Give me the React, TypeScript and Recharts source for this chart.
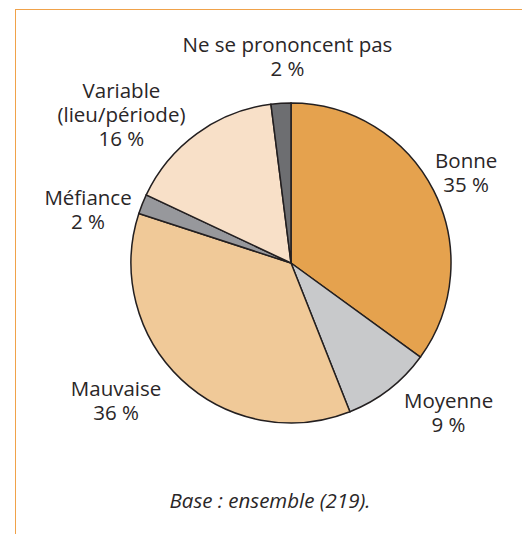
import { PieChart, Pie, Cell } from 'recharts';

const categories = ['Bonne', 'Moyenne', 'Mauvaise', 'Méfiance', 'Variable\n(lieu/période)', 'Ne se prononcent pas'];
const shares = [35, 9, 36, 2, 16, 2];
const colors = ['#e5a24e', '#c8c9cb', '#f0c998', '#97989c', '#f8e0c8', '#6d6e71'];

// label placement tweaks (px) around the default outside position
const labelNudge: [number, number][] = [
  [-3, 2],
  [35, -7],
  [-38, -7],
  [-17, 22],
  [-52, 15],
  [9, -5],
];

const data = categories.map((name, i) => ({ name, value: shares[i] }));

const RAD = Math.PI / 180;
const LABEL_R = 200;
const LINE_H = 24;
const FONT = '"Open Sans", Lato, sans-serif';

function renderLabel(props: any) {
  const { cx, cy, midAngle, index, name, value } = props;
  const [nx, ny] = labelNudge[index] ?? [0, 0];
  const x = cx + LABEL_R * Math.cos(-midAngle * RAD) + nx;
  const y = cy + LABEL_R * Math.sin(-midAngle * RAD) + ny;
  const lines = [...String(name).split('\n'), `${value} %`];
  const y0 = y - ((lines.length - 1) * LINE_H) / 2 + 6;
  return (
    <text key={`l-${index}`} x={x} y={y0} textAnchor="middle" fill="#2a2627" fontSize={20.5} fontFamily={FONT}>
      {lines.map((l, i) => (
        <tspan key={i} x={x} y={y0 + i * LINE_H}>
          {l}
        </tspan>
      ))}
    </text>
  );
}

export default function App() {
  return (
    <div style={{ position: 'absolute', left: 0, top: 0, width: 522, height: 534, background: '#fff' }}>
      <div
        style={{
          position: 'absolute',
          left: 15,
          top: 9,
          width: 507,
          height: 525,
          borderTop: '1.5px solid #f0a24a',
          borderLeft: '1.5px solid #f0a24a',
          boxSizing: 'border-box',
        }}
      />
      <PieChart
        width={522}
        height={534}
        margin={{ top: 0, right: 0, bottom: 0, left: 0 }}
        style={{ position: 'absolute', left: 0, top: 0 }}
      >
        <Pie
          data={data}
          dataKey="value"
          nameKey="name"
          cx={291}
          cy={263}
          outerRadius={160}
          startAngle={90}
          endAngle={-270}
          stroke="#231f20"
          strokeWidth={1.5}
          label={renderLabel}
          labelLine={false}
          isAnimationActive={false}
        >
          {data.map((d, i) => (
            <Cell key={d.name} fill={colors[i]} />
          ))}
        </Pie>
        <text x={270} y={508} textAnchor="middle" fontSize={20.5} fontStyle="italic" fill="#2a2627" fontFamily={FONT}>
          Base : ensemble (219).
        </text>
      </PieChart>
    </div>
  );
}
